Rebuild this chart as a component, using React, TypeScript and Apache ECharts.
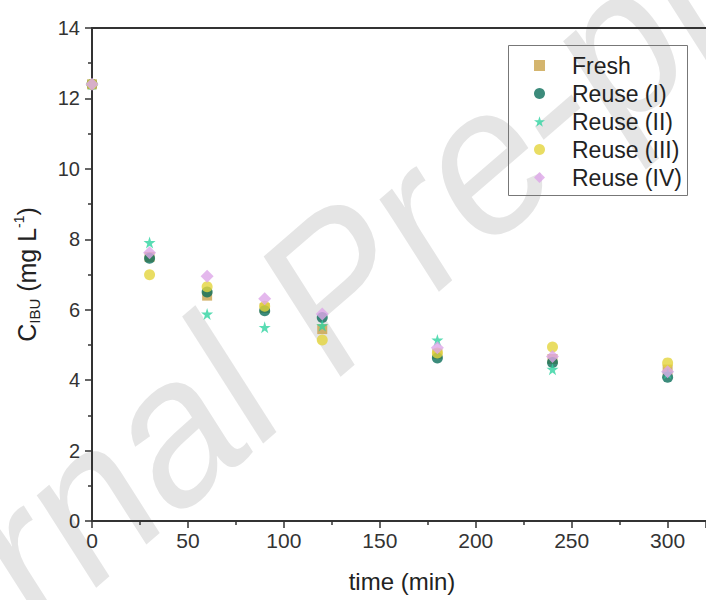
import React, { useEffect, useRef } from "react";
import * as echarts from "echarts";

const times = [0, 30, 60, 90, 120, 180, 240, 300];
const fresh = [12.4, 7.5, 6.4, 6.05, 5.45, 4.75, 4.6, 4.3];
const reuseI = [12.4, 7.46, 6.5, 5.97, 5.78, 4.63, 4.5, 4.08];
const reuseII = [12.4, 7.91, 5.88, 5.5, 5.55, 5.14, 4.31, 4.2];
const reuseIII = [12.4, 6.99, 6.65, 6.1, 5.14, 4.77, 4.94, 4.49];
const reuseIV = [12.4, 7.62, 6.95, 6.31, 5.88, 4.92, 4.67, 4.24];

const seriesNames = ["Fresh", "Reuse (I)", "Reuse (II)", "Reuse (III)", "Reuse (IV)"];
const seriesValues = [fresh, reuseI, reuseII, reuseIII, reuseIV];
const seriesColors = ["#C9A24A", "#0B6E5A", "#2FD3A0", "#E4D43C", "#DDA6E8"];
const seriesSymbols = ["rect", "circle", "path://M50,0 L61,35 L98,35 L68,57 L79,91 L50,70 L21,91 L32,57 L2,35 L39,35 Z", "circle", "diamond"];
const seriesSizes = [10, 11, 12, 11, 13];

const FONT = "'Liberation Sans', Arial, sans-serif";

export default function App() {
  const ref = useRef<HTMLDivElement>(null);
  useEffect(() => {
    if (!ref.current) return;
    const chart = echarts.init(ref.current, undefined, { renderer: "svg" });
    const series = seriesNames.map((name, i) => ({
      name,
      type: "scatter",
      data: times.map((t, j) => [t, seriesValues[i][j]]),
      symbol: seriesSymbols[i],
      symbolSize: seriesSizes[i],
      itemStyle: { color: seriesColors[i] },
      z: 3 + i,
    }));
    chart.setOption({
      animation: false,
      textStyle: { fontFamily: FONT },
      grid: { left: 92, top: 28, bottom: 79, right: -24 },
      legend: {
        orient: "vertical",
        left: 529,
        top: 49,
        itemWidth: 11,
        itemHeight: 11,
        itemGap: 5,
        data: seriesNames,
        textStyle: { fontSize: 23, color: "#222", fontFamily: FONT, padding: [0, 0, 0, 22] },
      },
      graphic: [
        {
          type: "group",
          x: 0,
          y: 0,
          scaleX: 0.86,
          scaleY: 1,
          z: -10,
          silent: true,
          children: [
            {
              type: "text",
              x: 390,
              y: 287,
              rotation: (36.6 * Math.PI) / 180,
              silent: true,
              style: {
                text: "Journal Pre-proof",
                fill: "#e5e5e5",
                font: `218px ${FONT}`,
                align: "center",
                verticalAlign: "middle",
              },
            },
          ],
        },
        {
          type: "rect",
          shape: { x: 508.5, y: 45.5, width: 179, height: 150 },
          style: { fill: "none", stroke: "#777", lineWidth: 1 },
          z: 10,
        },
        {
          type: "text",
          x: 402,
          y: 581,
          style: {
            text: "time (min)",
            fill: "#222",
            font: `24px ${FONT}`,
            align: "center",
            verticalAlign: "middle",
          },
        },
      ],
      xAxis: [
        {
          type: "value",
          min: 0,
          max: 320,
          interval: 50,
          axisLine: { show: true, onZero: false, lineStyle: { color: "#333", width: 2 } },
          axisTick: { show: true, inside: false, length: 7, lineStyle: { color: "#333", width: 1.5 } },
          minorTick: { show: true, splitNumber: 2, length: 4, lineStyle: { color: "#333", width: 1.5 } },
          splitLine: { show: false },
          axisLabel: { fontSize: 21, color: "#333", margin: 9, showMaxLabel: false, fontFamily: FONT },
        },
        {
          type: "value",
          position: "top",
          min: 0,
          max: 320,
          axisLine: { show: true, onZero: false, lineStyle: { color: "#333", width: 2 } },
          axisTick: { show: false },
          axisLabel: { show: false },
          splitLine: { show: false },
        },
      ],
      yAxis: {
        type: "value",
        min: 0,
        max: 14,
        interval: 2,
        name: "{a|C}{b|IBU}{a| (mg L}{c|-1}{a|)}",
        nameLocation: "middle",
        nameRotate: 90,
        nameGap: 50,
        nameTextStyle: {
          rich: {
            a: { fontSize: 25, color: "#222", fontFamily: FONT, lineHeight: 30 },
            b: { fontSize: 15, color: "#222", fontFamily: FONT, verticalAlign: "bottom", lineHeight: 30, padding: [10, 0, 0, 0] },
            c: { fontSize: 14, color: "#222", fontFamily: FONT, verticalAlign: "top", lineHeight: 30, padding: [0, 0, 10, 0] },
          },
        },
        axisLine: { show: true, onZero: false, lineStyle: { color: "#333", width: 2 } },
        axisTick: { show: true, inside: false, length: 7, lineStyle: { color: "#333", width: 1.5 } },
        minorTick: { show: true, splitNumber: 2, length: 4, lineStyle: { color: "#333", width: 1.5 } },
        splitLine: { show: false },
        axisLabel: { fontSize: 20, color: "#333", margin: 12, fontFamily: FONT },
      },
      series,
    });
    return () => chart.dispose();
  }, []);
  return <div ref={ref} style={{ width: 706, height: 600, position: "absolute", left: 0, top: 0 }} />;
}
